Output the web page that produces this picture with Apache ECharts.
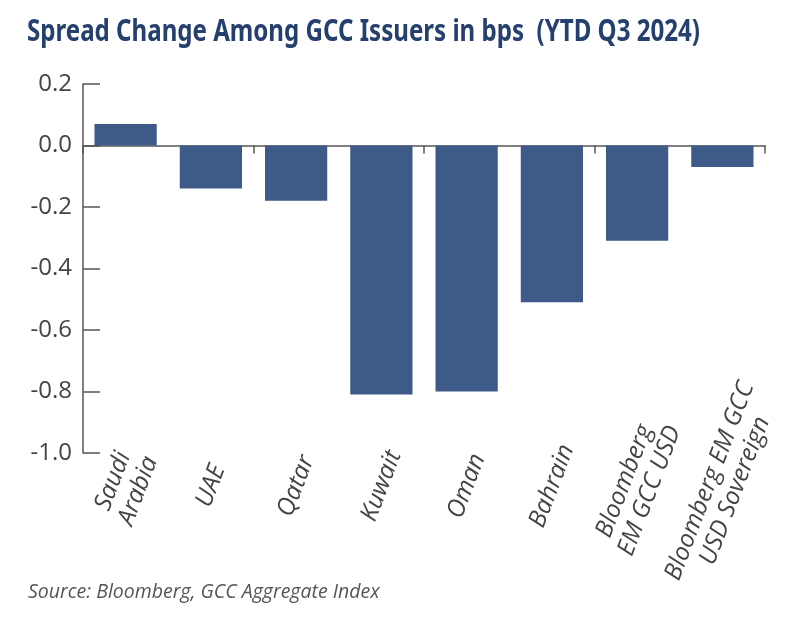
<!DOCTYPE html>
<html>
<head>
<meta charset="utf-8">
<title>Spread Change Among GCC Issuers</title>
<script src="https://cdn.jsdelivr.net/npm/echarts@6/dist/echarts.min.js"></script>
<style>
  html, body { margin: 0; padding: 0; background: #fff; }
  #chart { width: 800px; height: 628px; }
</style>
</head>
<body>
<div id="chart"></div>
<script>
// Datos (bps)
const emisores = ['Saudi\nArabia', 'UAE', 'Qatar', 'Kuwait', 'Oman', 'Bahrain',
                  'Bloomberg\nEM GCC USD', 'Bloomberg EM GCC\nUSD Sovereign'];
const cambioSpread = [0.07, -0.14, -0.18, -0.81, -0.80, -0.51, -0.31, -0.07];
const ejeY = { min: -1.0, max: 0.2, paso: 0.2 };

const titulo = 'Spread Change Among GCC Issuers in bps  (YTD Q3 2024)';
const fuente = 'Source: Bloomberg, GCC Aggregate Index';

const colorBarra = '#3d5a88';
const colorEje = '#555555';
const colorTexto = '#444444';

// El titulo original usa una fuente condensada: se comprime en horizontal
const fuenteTitulo = 'bold 31px "Noto Sans"';
const ctx = document.createElement('canvas').getContext('2d');
ctx.font = fuenteTitulo;
const escalaTitulo = 673 / ctx.measureText(titulo).width;

const chart = echarts.init(document.getElementById('chart'));

chart.setOption({
    animation: false,
    graphic: [
        {
            type: 'text',
            x: 27,
            y: 17,
            scaleX: escalaTitulo,
            style: {
                text: titulo,
                font: fuenteTitulo,
                fill: '#25406e',
                verticalAlign: 'top'
            }
        },
        {
            type: 'text',
            x: 28,
            y: 582,
            style: {
                text: fuente,
                font: 'italic 19.5px "Open Sans"',
                fill: '#555555',
                verticalAlign: 'top'
            }
        }
    ],
    grid: { left: 83, right: 35, top: 84, bottom: 175, containLabel: false },
    xAxis: [
        {
            // eje en cero con marcas
            type: 'category',
            data: emisores,
            position: 'bottom',
            axisLine: { onZero: true, lineStyle: { color: colorEje, width: 1.5 } },
            axisTick: { show: true, inside: false, length: 8, lineStyle: { color: colorEje, width: 1.5 } },
            axisLabel: { show: false }
        },
        {
            // solo etiquetas, abajo
            type: 'category',
            data: emisores,
            position: 'bottom',
            axisLine: { show: false, onZero: false },
            axisTick: { show: false },
            axisLabel: {
                show: true,
                interval: 0,
                rotate: 69,
                align: 'center',
                verticalAlign: 'middle',
                margin: 33,
                fontFamily: '"Open Sans", sans-serif',
                fontStyle: 'italic',
                fontSize: 24.5,
                lineHeight: 27,
                color: colorTexto
            }
        }
    ],
    yAxis: {
        type: 'value',
        min: ejeY.min,
        max: ejeY.max,
        interval: ejeY.paso,
        axisLine: { show: true, lineStyle: { color: colorEje, width: 1.5 } },
        axisTick: { show: true, inside: true, length: 17, lineStyle: { color: colorEje, width: 1.5 } },
        splitLine: { show: false },
        axisLabel: {
            margin: 11,
            fontFamily: '"Open Sans", sans-serif',
            fontSize: 24,
            color: colorTexto,
            formatter: v => v.toFixed(1)
        }
    },
    series: [{
        type: 'bar',
        xAxisIndex: 0,
        data: cambioSpread,
        barCategoryGap: '27%',
        itemStyle: { color: colorBarra }
    }]
});
</script>
</body>
</html>
